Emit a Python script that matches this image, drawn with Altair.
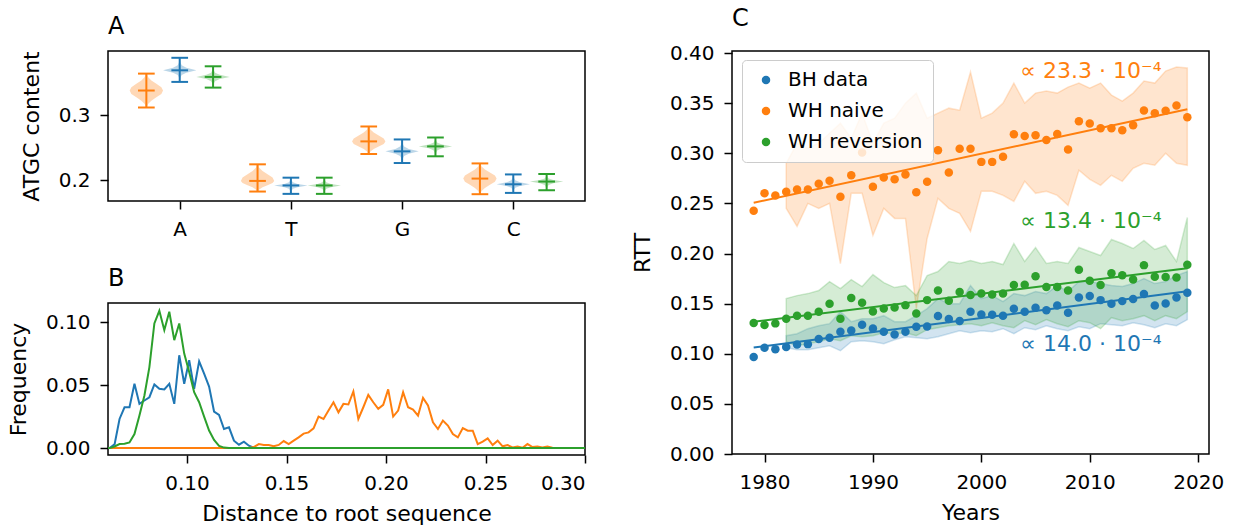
import altair as alt
import pandas as pd

FONT = "DejaVu Sans"
BLUE, ORANGE, GREEN = "#1f77b4", "#ff7f0e", "#2ca02c"
SERIES = ["BH data", "WH naive", "WH reversion"]
COLORS = [BLUE, ORANGE, GREEN]
SERIES_COLOR = dict(zip(SERIES, COLORS))

# ---------------- Panel A : ATGC content violins ----------------
BASES = ["A", "T", "G", "C"]
A_ORDER = ["WH naive", "BH data", "WH reversion"]      # left -> right within a group
A_OFFSET = [-0.3, 0.0, 0.3]
NAIVE_MIN = [0.3123, 0.1826, 0.2405, 0.1785]
NAIVE_MEAN = [0.3385, 0.1990, 0.2600, 0.2026]
NAIVE_MAX = [0.3646, 0.2246, 0.2830, 0.2260]
BH_MIN = [0.3518, 0.1790, 0.2266, 0.1805]
BH_MEAN = [0.3697, 0.1920, 0.2446, 0.1938]
BH_MAX = [0.3890, 0.2040, 0.2630, 0.2090]
REV_MIN = [0.3430, 0.1790, 0.2370, 0.1846]
REV_MEAN = [0.3595, 0.1920, 0.2523, 0.1980]
REV_MAX = [0.3759, 0.2040, 0.2660, 0.2097]
# violin outline (relative position min->mean->max, relative half width)
VIOLIN_T = [0.0, 0.1, 0.2, 0.3, 0.4, 0.5, 0.6, 0.7, 0.8, 0.9, 1.0]
BROAD_W = [0.03, 0.1, 0.3, 0.6, 0.9, 1.0, 0.9, 0.6, 0.3, 0.1, 0.03]
PEAKED_W = [0.01, 0.02, 0.05, 0.12, 0.4, 1.0, 0.4, 0.12, 0.05, 0.02, 0.01]

# ---------------- Panel B : distance histograms ----------------
HIST_X = [round(0.0586 + 0.0025 * k, 4) for k in range(98)]
BH_FREQ = [0, 0, 0.003, 0.0232, 0.0325, 0.0325, 0.0512, 0.0352, 0.0379, 0.0405,
           0.0507, 0.0472, 0.0467, 0.0512, 0.0352, 0.0739, 0.0512, 0.0699, 0.0472,
           0.0691, 0.0592, 0.049, 0.0291, 0.0264, 0.0152, 0.0165, 0.0059, 0.0027,
           0.0051, 0.0019, 0.0003]
REV_FREQ = [0, 0, 0.0013, 0.0032, 0.0035, 0.0045, 0.0112, 0.0259, 0.0419, 0.0645,
            0.0992, 0.1093, 0.0939, 0.1085, 0.0859, 0.0992, 0.0752, 0.0605, 0.0445,
            0.0365, 0.025, 0.014, 0.0065, 0.0018, 0.0004]
NAIVE_FREQ = [0.0] * 30 + [
    0.0008, 0.0032, 0.0024, 0.0024, 0.0014, 0.0025, 0.0056, 0.0032, 0.0059, 0.0085,
    0.0115, 0.0125, 0.0157, 0.0251, 0.0232, 0.0299, 0.0365, 0.0285, 0.0352, 0.0347,
    0.0451, 0.0232, 0.0325, 0.0424, 0.0365, 0.0312, 0.0344, 0.0467, 0.0251, 0.0299,
    0.0445, 0.0325, 0.0307, 0.0259, 0.04, 0.0339, 0.0205, 0.0152, 0.0219, 0.0179,
    0.0112, 0.0085, 0.016, 0.0139, 0.0139, 0.0032, 0.0051, 0.0077, 0.0024, 0.0059,
    0.0014, 0.0024, 0.0005, 0.0013, 0.0003, 0.0032, 0.0008, 0.0013, 0.0005, 0.0013,
    0.0003]

# ---------------- Panel C : root-to-tip distance ----------------
YEARS = list(range(1979, 2020))
BH_RTT = [0.0967, 0.106, 0.1044, 0.1067, 0.1093, 0.1096, 0.1146, 0.116, 0.122, 0.1233,
          0.129, 0.1253, 0.122, 0.1193, 0.122, 0.127, 0.1273, 0.1376, 0.1346, 0.1326,
          0.1419, 0.1392, 0.1389, 0.1379, 0.1449, 0.1419, 0.1459, 0.1435, 0.1482, 0.1409,
          0.1562, 0.1575, 0.1535, 0.1499, 0.1525, 0.1545, 0.1595, 0.1482, 0.1502, 0.1562,
          0.1609]
NAIVE_RTT = [0.2426, 0.2601, 0.2578, 0.2615, 0.2638, 0.2638, 0.2695, 0.2725, 0.2565, 0.278,
             0.3007, 0.2665, 0.2758, 0.2741, 0.2788, 0.2612, 0.2715, 0.303, 0.2808, 0.3044,
             0.3044, 0.2914, 0.2914, 0.2964, 0.319, 0.3173, 0.318, 0.3133, 0.3193, 0.3037,
             0.3319, 0.3296, 0.325, 0.325, 0.323, 0.328, 0.3426, 0.340, 0.3423, 0.3476,
             0.336]
REV_RTT = [0.1306, 0.1286, 0.1303, 0.135, 0.138, 0.138, 0.1419, 0.1499, 0.135, 0.1555,
           0.1509, 0.1422, 0.1452, 0.1462, 0.1485, 0.1402, 0.1535, 0.1632, 0.1529, 0.1615,
           0.1585, 0.1602, 0.1592, 0.1602, 0.1685, 0.1688, 0.1774, 0.1665, 0.1665, 0.1632,
           0.1838, 0.1728, 0.1685, 0.1804, 0.1784, 0.1741, 0.1884, 0.1768, 0.1765, 0.1761,
           0.1888]
BAND_YEARS = list(range(1982, 2020))
BH_LO = [0.106, 0.104, 0.104, 0.106, 0.108, 0.103, 0.112, 0.113, 0.112, 0.110,
         0.114, 0.117, 0.116, 0.115, 0.117, 0.120, 0.123, 0.121, 0.123, 0.122,
         0.125, 0.120, 0.126, 0.124, 0.128, 0.125, 0.123, 0.127, 0.125, 0.130,
         0.129, 0.128, 0.131, 0.129, 0.126, 0.130, 0.128, 0.134]
BH_HI = [0.118, 0.120, 0.125, 0.128, 0.130, 0.142, 0.132, 0.135, 0.135, 0.138,
         0.132, 0.132, 0.138, 0.145, 0.155, 0.150, 0.150, 0.168, 0.155, 0.158,
         0.152, 0.160, 0.158, 0.162, 0.160, 0.168, 0.162, 0.172, 0.172, 0.170,
         0.168, 0.167, 0.170, 0.175, 0.170, 0.172, 0.178, 0.182]
NAIVE_LO = [0.245, 0.227, 0.25, 0.245, 0.25, 0.19, 0.26, 0.26, 0.218, 0.245,
            0.235, 0.235, 0.145, 0.215, 0.255, 0.245, 0.24, 0.222, 0.262, 0.262,
            0.258, 0.252, 0.272, 0.26, 0.262, 0.258, 0.248, 0.283, 0.274, 0.268,
            0.278, 0.272, 0.285, 0.29, 0.288, 0.3, 0.29, 0.288]
NAIVE_HI = [0.29, 0.31, 0.305, 0.31, 0.32, 0.33, 0.315, 0.34, 0.31, 0.33,
            0.335, 0.35, 0.36, 0.335, 0.34, 0.345, 0.343, 0.381, 0.335, 0.34,
            0.35, 0.37, 0.35, 0.36, 0.362, 0.36, 0.366, 0.37, 0.365, 0.37,
            0.358, 0.352, 0.36, 0.372, 0.37, 0.382, 0.386, 0.385]
REV_LO = [0.112, 0.108, 0.110, 0.112, 0.115, 0.113, 0.118, 0.117, 0.118, 0.121,
          0.120, 0.121, 0.118, 0.124, 0.126, 0.128, 0.129, 0.130, 0.128, 0.131,
          0.128, 0.126, 0.133, 0.129, 0.134, 0.130, 0.127, 0.133, 0.131, 0.125,
          0.136, 0.133, 0.135, 0.138, 0.133, 0.138, 0.135, 0.142]
REV_HI = [0.155, 0.158, 0.160, 0.163, 0.172, 0.165, 0.174, 0.167, 0.179, 0.171,
          0.166, 0.168, 0.158, 0.178, 0.182, 0.192, 0.190, 0.193, 0.190, 0.192,
          0.189, 0.210, 0.192, 0.206, 0.190, 0.192, 0.190, 0.206, 0.202, 0.198,
          0.214, 0.210, 0.205, 0.213, 0.204, 0.208, 0.192, 0.236]
ANNOT_TEXT = ["∝ 23.3 · 10⁻⁴", "∝ 13.4 · 10⁻⁴", "∝ 14.0 · 10⁻⁴"]
ANNOT_SERIES = ["WH naive", "WH reversion", "BH data"]
ANNOT_YEAR = [2003.6, 2003.6, 2003.6]
ANNOT_RTT = [0.382, 0.232, 0.110]

color_scale = alt.Scale(domain=SERIES, range=COLORS)


def panel_title(letter):
    return alt.TitleParams(letter, anchor="start", frame="group", fontSize=24,
                           font=FONT, fontWeight="normal", color="black", offset=12)


# ================= build Panel A =================
stats = {
    "WH naive": (NAIVE_MIN, NAIVE_MEAN, NAIVE_MAX, BROAD_W),
    "BH data": (BH_MIN, BH_MEAN, BH_MAX, PEAKED_W),
    "WH reversion": (REV_MIN, REV_MEAN, REV_MAX, PEAKED_W),
}
vrows, rrows, crows = [], [], []
for i, b in enumerate(BASES):
    for s, off in zip(A_ORDER, A_OFFSET):
        mn, me, mx, prof = stats[s]
        pos = i + off
        vid = f"{b}-{s}"
        for t, w in zip(VIOLIN_T, prof):
            if t <= 0.5:
                y = mn[i] + (me[i] - mn[i]) * t / 0.5
            else:
                y = me[i] + (mx[i] - me[i]) * (t - 0.5) / 0.5
            vrows.append(dict(vid=vid, series=s, y=y, xlo=pos - 0.15 * w, xhi=pos + 0.15 * w))
        rrows.append(dict(series=s, x=pos, ymin=mn[i], ymax=mx[i]))
        for v in (mn[i], me[i], mx[i]):
            crows.append(dict(series=s, x1=pos - 0.075, x2=pos + 0.075, y=v))
vdf, rdf, cdf = pd.DataFrame(vrows), pd.DataFrame(rrows), pd.DataFrame(crows)

xA_scale = alt.Scale(domain=[-0.645, 3.645], nice=False, zero=False)
yA_scale = alt.Scale(domain=[0.168, 0.3995], nice=False, zero=False)
xA_axis = alt.Axis(values=[0, 1, 2, 3], labelExpr="['A','T','G','C'][datum.value]", title=None)
yA_axis = alt.Axis(values=[0.2, 0.3], format=".1f", title="ATGC content")
colA = alt.Color("series:N", scale=color_scale, legend=None)

violins = alt.Chart(vdf).mark_area(orient="horizontal", opacity=0.3).encode(
    y=alt.Y("y:Q", scale=yA_scale, axis=yA_axis),
    x=alt.X("xlo:Q", scale=xA_scale, axis=xA_axis, stack=None),
    x2="xhi:Q", color=colA, detail="vid:N")
vrules = alt.Chart(rdf).mark_rule(strokeWidth=2).encode(
    x=alt.X("x:Q", scale=xA_scale, axis=xA_axis),
    y=alt.Y("ymin:Q", scale=yA_scale, axis=yA_axis), y2="ymax:Q", color=colA)
caps = alt.Chart(cdf).mark_rule(strokeWidth=2).encode(
    x=alt.X("x1:Q", scale=xA_scale, axis=xA_axis), x2="x2:Q",
    y=alt.Y("y:Q", scale=yA_scale, axis=yA_axis), color=colA)
panelA = alt.layer(violins, vrules, caps).properties(
    width=477, height=150, title=panel_title("A"))

# ================= build Panel B =================
def pad(vals):
    return list(vals) + [0.0] * (len(HIST_X) - len(vals))

xB = alt.X("x:Q", scale=alt.Scale(domain=[0.0603, 0.30], nice=False, zero=False),
           axis=alt.Axis(values=[0.10, 0.15, 0.20, 0.25, 0.30], format=".2f",
                         title="Distance to root sequence"))
yB = alt.Y("f:Q", scale=alt.Scale(domain=[-0.0055, 0.1155], nice=False, zero=False),
           axis=alt.Axis(values=[0.0, 0.05, 0.10], format=".2f", title="Frequency"))
b_layers = []
for s, vals in [("BH data", BH_FREQ), ("WH naive", NAIVE_FREQ), ("WH reversion", REV_FREQ)]:
    d = pd.DataFrame({"x": HIST_X, "f": pad(vals)})
    b_layers.append(alt.Chart(d).mark_line(strokeWidth=2, clip=True, color=SERIES_COLOR[s]).encode(
        x=xB, y=yB))
panelB = alt.layer(*b_layers).properties(width=477, height=152, title=panel_title("B"))

# ================= build Panel C =================
xC_scale = alt.Scale(domain=[1977, 2021], nice=False, zero=False)
yC_scale = alt.Scale(domain=[0, 0.402], nice=False)
xC_axis = alt.Axis(values=[1980, 1990, 2000, 2010, 2020], format="d", title="Years")
yC_axis = alt.Axis(values=[0, 0.05, 0.10, 0.15, 0.20, 0.25, 0.30, 0.35, 0.40],
                   format=".2f", title="RTT")
xC = alt.X("year:Q", scale=xC_scale, axis=xC_axis)

c_layers = []
for s, lo, hi in [("BH data", BH_LO, BH_HI), ("WH naive", NAIVE_LO, NAIVE_HI),
                  ("WH reversion", REV_LO, REV_HI)]:
    d = pd.DataFrame({"year": BAND_YEARS, "lo": lo, "hi": hi})
    c = SERIES_COLOR[s]
    c_layers.append(alt.Chart(d).mark_area(
        color=c, fill=c, stroke=c, fillOpacity=0.2, strokeOpacity=0.2, strokeWidth=1.5).encode(
        x=xC, y=alt.Y("lo:Q", scale=yC_scale, axis=yC_axis), y2="hi:Q"))

pts = pd.DataFrame({
    "year": YEARS * 3,
    "rtt": BH_RTT + NAIVE_RTT + REV_RTT,
    "series": ["BH data"] * len(YEARS) + ["WH naive"] * len(YEARS) + ["WH reversion"] * len(YEARS),
})
points = alt.Chart(pts).mark_circle(size=72, opacity=1).encode(
    x=xC,
    y=alt.Y("rtt:Q", scale=yC_scale, axis=yC_axis),
    color=alt.Color("series:N", scale=color_scale, legend=alt.Legend(
        title=None, orient="none", legendX=10, legendY=9,
        fillColor="rgba(255,255,255,0.8)",
        strokeColor="#cccccc", cornerRadius=4, padding=10, rowPadding=11,
        labelFontSize=20, labelFont=FONT, labelColor="black", symbolSize=72,
        symbolType="circle", labelOffset=12, symbolOffset=4, symbolStrokeWidth=0)))

fit_layers = []
for s in SERIES:
    fit_layers.append(alt.Chart(pts).transform_filter(alt.datum.series == s)
                      .transform_regression("year", "rtt")
                      .mark_line(strokeWidth=2, color=SERIES_COLOR[s]).encode(
                          x=xC, y=alt.Y("rtt:Q", scale=yC_scale, axis=yC_axis)))

text_layers = []
for lab, s, yr, v in zip(ANNOT_TEXT, ANNOT_SERIES, ANNOT_YEAR, ANNOT_RTT):
    d = pd.DataFrame({"year": [yr], "rtt": [v], "label": [lab]})
    text_layers.append(alt.Chart(d).mark_text(
        align="left", baseline="middle", fontSize=22, font=FONT, color=SERIES_COLOR[s]).encode(
        x=xC, y=alt.Y("rtt:Q", scale=yC_scale, axis=yC_axis), text="label:N"))

panelC = alt.layer(*c_layers, points, *fit_layers, *text_layers).properties(
    width=477, height=403, title=panel_title("C"))

left = alt.vconcat(panelA, panelB, spacing=102, bounds="flush")
chart = alt.hconcat(left, panelC, spacing=43).resolve_scale(
    color="independent"
).resolve_legend(color="independent").properties(
    padding={"left": 6, "top": 6, "right": 5, "bottom": 5}
).configure_view(stroke="black", strokeWidth=1.5).configure_axis(
    grid=False, domain=False, tickColor="black", tickSize=8, tickWidth=1.5,
    labelFont=FONT, labelFontSize=20, labelColor="black", labelPadding=10,
    titleFont=FONT, titleFontSize=22, titleFontWeight="normal", titleColor="black",
    titlePadding=15
).configure_axisX(titlePadding=10)

chart.save("out.html", embed_options={"renderer": "svg", "actions": False})
